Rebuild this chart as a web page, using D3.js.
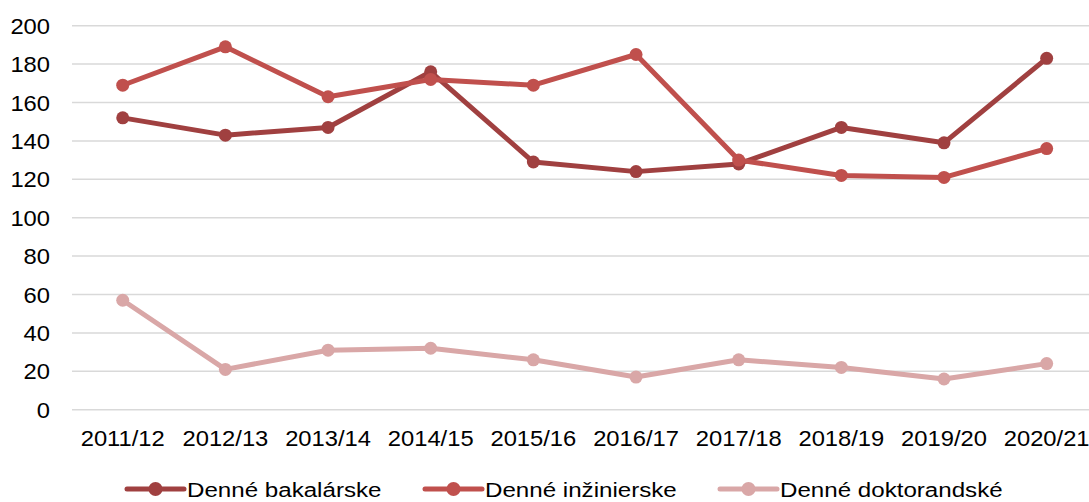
<!DOCTYPE html>
<html>
<head>
<meta charset="utf-8">
<script src="https://cdn.jsdelivr.net/npm/d3@7"></script>
<style>
  body { margin: 0; background: #fff; }
  svg { display: block; font-family: 'Liberation Sans', Arial, sans-serif; }
</style>
</head>
<body>
<div id="chart"></div>
<script>
// data
const years = ['2011/12', '2012/13', '2013/14', '2014/15', '2015/16', '2016/17', '2017/18', '2018/19', '2019/20', '2020/21'];
const bakalarske = [152, 143, 147, 176, 129, 124, 128, 147, 139, 183];
const inzinierske = [169, 189, 163, 172, 169, 185, 130, 122, 121, 136];
const doktorandske = [57, 21, 31, 32, 26, 17, 26, 22, 16, 24];
const yTicks = [0, 20, 40, 60, 80, 100, 120, 140, 160, 180, 200];
const seriesNames = ['Denné bakalárske', 'Denné inžinierske', 'Denné doktorandské'];
const seriesColors = ['#A04040', '#C0504D', '#D9A7A7'];

const series = [bakalarske, inzinierske, doktorandske].map((vals, i) => ({
  name: seriesNames[i],
  color: seriesColors[i],
  values: vals.map((v, j) => ({ year: years[j], value: v }))
}));

const width = 1089;
const height = 502;

const svg = d3.select('#chart')
  .append('svg')
    .attr('width', width)
    .attr('height', height);

const x = d3.scaleBand()
  .domain(years)
  .range([71.4, 1098]);

const y = d3.scaleLinear()
  .domain([0, 200])
  .range([409.7, 25.7]);

const cx = d => x(d) + x.bandwidth() / 2;

// gridlines
svg.append('g')
  .selectAll('line')
  .data(yTicks)
  .enter().append('line')
    .attr('x1', 72)
    .attr('x2', width)
    .attr('y1', d => y(d))
    .attr('y2', d => y(d))
    .attr('stroke', '#D9D9D9')
    .attr('stroke-width', 1.5);

// y labels
svg.append('g')
  .selectAll('text')
  .data(yTicks)
  .enter().append('text')
    .attr('transform', d => `translate(50,${y(d) + 8}) scale(1.08,1)`)
    .attr('text-anchor', 'end')
    .attr('font-size', 22)
    .attr('fill', '#000')
    .text(d => d);

// x labels
svg.append('g')
  .selectAll('text')
  .data(years)
  .enter().append('text')
    .attr('transform', d => `translate(${cx(d)},446) scale(1.08,1)`)
    .attr('text-anchor', 'middle')
    .attr('font-size', 22)
    .attr('fill', '#000')
    .text(d => d);

const line = d3.line()
  .x(d => cx(d.year))
  .y(d => y(d.value));

const groups = svg.selectAll('.series')
  .data(series)
  .enter().append('g')
    .attr('class', 'series');

groups.append('path')
  .attr('d', d => line(d.values))
  .attr('fill', 'none')
  .attr('stroke', d => d.color)
  .attr('stroke-width', 5)
  .attr('stroke-linejoin', 'round');

groups.each(function(s) {
  d3.select(this).selectAll('circle')
    .data(s.values)
    .enter().append('circle')
      .attr('cx', d => cx(d.year))
      .attr('cy', d => y(d.value))
      .attr('r', 6.5)
      .attr('fill', s.color);
});

// legend
const legendX = [127, 425, 720];
const legend = svg.selectAll('.legend')
  .data(series)
  .enter().append('g')
    .attr('class', 'legend')
    .attr('transform', (d, i) => `translate(${legendX[i]},489)`);

legend.append('line')
  .attr('x1', 0)
  .attr('x2', 57)
  .attr('stroke', d => d.color)
  .attr('stroke-width', 5)
  .attr('stroke-linecap', 'round');

legend.append('circle')
  .attr('cx', 28.5)
  .attr('r', 7)
  .attr('fill', d => d.color);

legend.append('text')
  .attr('transform', 'translate(60,8) scale(1.15,1)')
  .attr('font-size', 21)
  .attr('fill', '#000')
  .text(d => d.name);
</script>
</body>
</html>
